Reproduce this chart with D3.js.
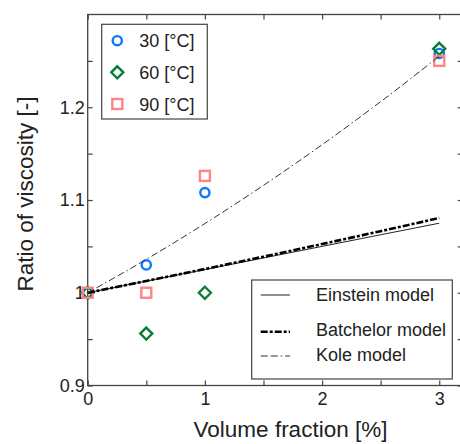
<!DOCTYPE html>
<html><head><meta charset="utf-8">
<script src="https://cdn.jsdelivr.net/npm/d3@7"></script>
<style>body{margin:0;background:#fff}svg{display:block}</style>
</head><body>
<svg id="c" width="460" height="444"></svg>
<script>
// ---- data ----
const phi = [0, 0.5, 1, 3];
const s30 = [1.0, 1.030, 1.108, 1.258];
const s60 = [1.0, 0.956, 1.0, 1.263];
const s90 = [1.0, 1.0, 1.126, 1.250];
const seriesNames = ["30 [°C]", "60 [°C]", "90 [°C]"];
const modelPhi = [0, 0.5, 1, 1.5, 2, 2.5, 3];
const einstein = [1.0, 1.0125, 1.025, 1.0375, 1.05, 1.0625, 1.075];
const batchelor = [1.0, 1.0127, 1.0256, 1.0389, 1.0525, 1.0664, 1.0806];
const kole = [1.0, 1.036, 1.0746, 1.1158, 1.1596, 1.206, 1.255];
const modelNames = ["Einstein model", "Batchelor model", "Kole model"];
const xMajor = [0, 1, 2, 3], xMinor = [0.5, 1.5, 2.5];
const yMajor = [0.9, 1.0, 1.1, 1.2], yMinor = [0.95, 1.05, 1.15, 1.25];
const xTitle = "Volume fraction [%]";
const yTitle = "Ratio of viscosity [-]";

const svg = d3.select("#c");
const FONT = "'Liberation Sans', Arial, sans-serif";
const x = d3.scaleLinear().domain([0, 3.2]).range([87.7, 462.7]);
const y = d3.scaleLinear().domain([0.9, 1.3]).range([385.5, 14.5]);
const axisCol = "#444";

function styleAxis(g) {
  g.select(".domain").remove();
  g.selectAll("line").attr("stroke", axisCol).attr("stroke-width", 1.2);
  g.selectAll("text").attr("font-family", FONT).attr("font-size", 18).attr("fill", "#222");
}
const H = y.range()[0], T = y.range()[1], L = x.range()[0], R = x.range()[1];

// axes with inward ticks
svg.append("g").attr("transform", `translate(0,${H})`)
  .call(d3.axisBottom(x).tickValues(xMajor).tickSize(-5).tickSizeOuter(0).tickPadding(7).tickFormat(d3.format("d"))).call(styleAxis);
svg.append("g").attr("transform", `translate(0,${H})`)
  .call(d3.axisBottom(x).tickValues(xMinor).tickSize(-5).tickSizeOuter(0).tickFormat("")).call(styleAxis);
svg.append("g").attr("transform", `translate(0,${T})`)
  .call(d3.axisTop(x).tickValues(xMajor.concat(xMinor)).tickSize(-5).tickSizeOuter(0).tickFormat("")).call(styleAxis);
svg.append("g").attr("transform", `translate(${L},0)`)
  .call(d3.axisLeft(y).tickValues(yMajor).tickSize(-5).tickSizeOuter(0).tickPadding(3)
  .tickFormat(d => d === 1 ? "1" : d3.format(".1f")(d))).call(styleAxis);
svg.append("g").attr("transform", `translate(${L},0)`)
  .call(d3.axisLeft(y).tickValues(yMinor).tickSize(-5).tickSizeOuter(0).tickFormat("")).call(styleAxis);
svg.append("g").attr("transform", `translate(${R},0)`)
  .call(d3.axisRight(y).tickValues(yMajor.concat(yMinor)).tickSize(-5).tickSizeOuter(0).tickFormat("")).call(styleAxis);
svg.append("rect").attr("x", L).attr("y", T).attr("width", R - L).attr("height", H - T)
  .attr("fill", "none").attr("stroke", axisCol).attr("stroke-width", 1.3);

// titles
svg.append("text").attr("x", 290.5).attr("y", 437).attr("text-anchor", "middle")
  .attr("font-family", FONT).attr("font-size", 22.5).attr("fill", "#222").text(xTitle);
svg.append("text").attr("transform", "translate(33,194) rotate(-90)").attr("text-anchor", "middle")
  .attr("font-family", FONT).attr("font-size", 22.5).attr("fill", "#222").text(yTitle);

// markers
const cols = ["#0a78ff", "#0b7d36", "#ff8585"];
const symbols = [
  (g, cx, cy) => g.append("circle").attr("cx", cx).attr("cy", cy).attr("r", 4.6),
  (g, cx, cy) => g.append("path").attr("d", `M${cx},${cy-6}L${cx+6},${cy}L${cx},${cy+6}L${cx-6},${cy}Z`),
  (g, cx, cy) => g.append("rect").attr("x", cx-5).attr("y", cy-5).attr("width", 10).attr("height", 10)
];
[s30, s60, s90].forEach((s, i) => {
  const g = svg.append("g").attr("fill", "none").attr("stroke", cols[i]).attr("stroke-width", 2.4);
  s.forEach((v, j) => symbols[i](g, x(phi[j]), y(v)));
});

// model lines
const line = d3.line().x((d, i) => x(modelPhi[i])).y(d => y(d)).curve(d3.curveMonotoneX);
const mstyles = [
  {w: 1, dash: null, col: "#222"},
  {w: 2.6, dash: "7,2,3,2", col: "#000"},
  {w: 1, dash: "7,3,7,3,1.5,3", col: "#333"}
];
[einstein, batchelor, kole].forEach((m, i) => {
  svg.append("path").attr("d", line(m)).attr("fill", "none")
    .attr("stroke", mstyles[i].col).attr("stroke-width", mstyles[i].w)
    .attr("stroke-dasharray", mstyles[i].dash);
});

// legend 1
svg.append("rect").attr("x", 101.7).attr("y", 24.3).attr("width", 105.6).attr("height", 94.7)
  .attr("fill", "#fff").attr("stroke", axisCol).attr("stroke-width", 1.2);
const l1y = [40.7, 72.3, 104], l1base = [46.5, 78.5, 111];
seriesNames.forEach((n, i) => {
  const g = svg.append("g").attr("fill", "none").attr("stroke", cols[i]).attr("stroke-width", 2.4);
  symbols[i](g, 117.3, l1y[i]);
  svg.append("text").attr("x", 139.3).attr("y", l1base[i]).attr("font-family", FONT)
    .attr("font-size", 18).attr("fill", "#222").text(n);
});

// legend 2
svg.append("rect").attr("x", 251.7).attr("y", 280).attr("width", 200.6).attr("height", 99)
  .attr("fill", "#fff").attr("stroke", axisCol).attr("stroke-width", 1.2);
const l2y = [295, 331.7, 356], l2base = [300.5, 335.5, 360.5];
modelNames.forEach((n, i) => {
  svg.append("line").attr("x1", 260.7).attr("x2", 290).attr("y1", l2y[i]).attr("y2", l2y[i])
    .attr("stroke", mstyles[i].col).attr("stroke-width", mstyles[i].w).attr("stroke-dasharray", mstyles[i].dash);
  svg.append("text").attr("x", 316).attr("y", l2base[i]).attr("font-family", FONT)
    .attr("font-size", 18).attr("fill", "#222").text(n);
});
</script>
</body></html>
